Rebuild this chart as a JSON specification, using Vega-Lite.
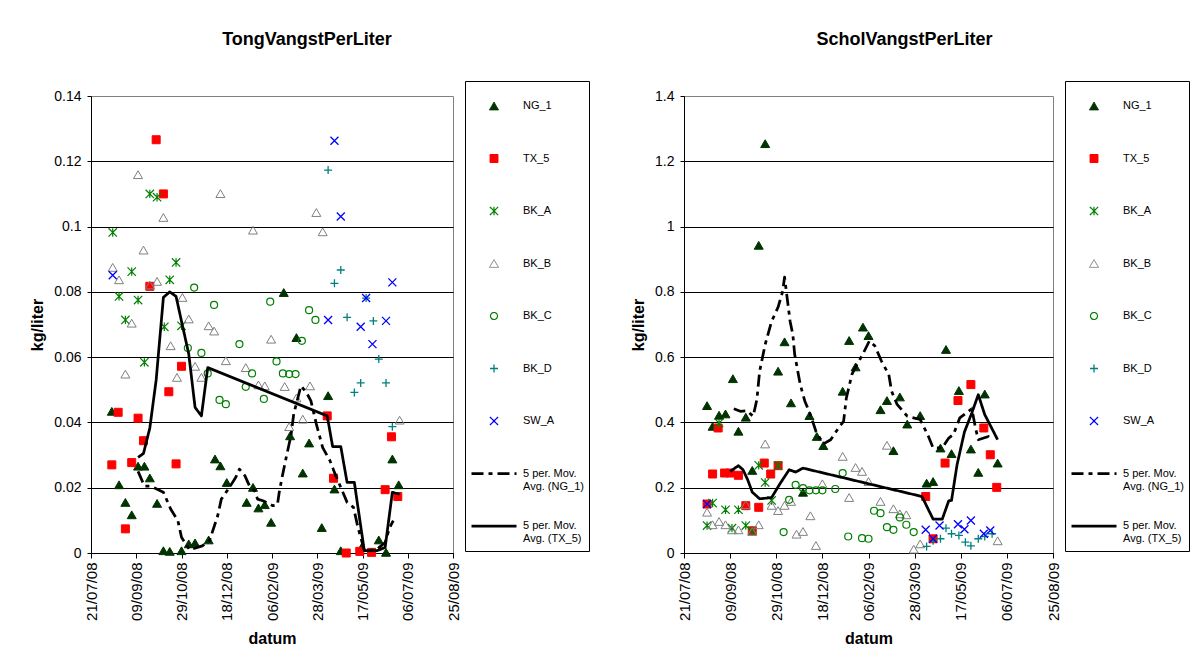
{
"$schema": "https://vega.github.io/schema/vega-lite/v6.json",
"background": "white",
"padding": {"left": 29, "top": 30, "right": 0, "bottom": 0},
"datasets": {
"tong": [
{"s":"NG_1","d":"2008-08-13","v":0.0434},{"s":"NG_1","d":"2008-08-21","v":0.0209},{"s":"NG_1","d":"2008-08-28","v":0.0155},{"s":"NG_1","d":"2008-09-04","v":0.0117},{"s":"NG_1","d":"2008-09-11","v":0.0266},{"s":"NG_1","d":"2008-09-18","v":0.0266},{"s":"NG_1","d":"2008-09-24","v":0.023},{"s":"NG_1","d":"2008-10-02","v":0.0152},{"s":"NG_1","d":"2008-10-09","v":0.0007},{"s":"NG_1","d":"2008-10-16","v":0.0005},{"s":"NG_1","d":"2008-10-29","v":0.0007},{"s":"NG_1","d":"2008-11-06","v":0.0028},{"s":"NG_1","d":"2008-11-13","v":0.0031},{"s":"NG_1","d":"2008-11-28","v":0.004},{"s":"NG_1","d":"2008-12-05","v":0.0288},{"s":"NG_1","d":"2008-12-11","v":0.0267},{"s":"NG_1","d":"2008-12-18","v":0.0216},{"s":"NG_1","d":"2009-01-09","v":0.0155},{"s":"NG_1","d":"2009-01-16","v":0.0201},{"s":"NG_1","d":"2009-01-22","v":0.0138},{"s":"NG_1","d":"2009-01-29","v":0.0148},{"s":"NG_1","d":"2009-02-05","v":0.0094},{"s":"NG_1","d":"2009-02-19","v":0.0798},{"s":"NG_1","d":"2009-02-26","v":0.0359},{"s":"NG_1","d":"2009-03-05","v":0.066},{"s":"NG_1","d":"2009-03-12","v":0.0245},{"s":"NG_1","d":"2009-03-19","v":0.0337},{"s":"NG_1","d":"2009-04-02","v":0.0078},{"s":"NG_1","d":"2009-04-09","v":0.0482},{"s":"NG_1","d":"2009-04-16","v":0.0196},{"s":"NG_1","d":"2009-04-23","v":0.0007},{"s":"NG_1","d":"2009-05-16","v":0.0017},{"s":"NG_1","d":"2009-06-04","v":0.004},{"s":"NG_1","d":"2009-06-12","v":0.0002},{"s":"NG_1","d":"2009-06-19","v":0.0288},{"s":"NG_1","d":"2009-06-26","v":0.0209},
{"s":"TX_5","d":"2008-08-13","v":0.027},{"s":"TX_5","d":"2008-08-20","v":0.0431},{"s":"TX_5","d":"2008-08-28","v":0.0074},{"s":"TX_5","d":"2008-09-04","v":0.0277},{"s":"TX_5","d":"2008-09-11","v":0.0413},{"s":"TX_5","d":"2008-09-17","v":0.0344},{"s":"TX_5","d":"2008-09-24","v":0.0817},{"s":"TX_5","d":"2008-10-01","v":0.1266},{"s":"TX_5","d":"2008-10-09","v":0.110},{"s":"TX_5","d":"2008-10-15","v":0.0494},{"s":"TX_5","d":"2008-10-23","v":0.0273},{"s":"TX_5","d":"2008-10-29","v":0.0572},{"s":"TX_5","d":"2009-04-08","v":0.042},{"s":"TX_5","d":"2009-04-15","v":0.0229},{"s":"TX_5","d":"2009-04-29","v":0.0},{"s":"TX_5","d":"2009-05-14","v":0.0005},{"s":"TX_5","d":"2009-05-27","v":0.0002},{"s":"TX_5","d":"2009-06-11","v":0.0194},{"s":"TX_5","d":"2009-06-18","v":0.0356},{"s":"TX_5","d":"2009-06-25","v":0.0173},
{"s":"BK_A","d":"2008-08-14","v":0.0982},{"s":"BK_A","d":"2008-08-21","v":0.0786},{"s":"BK_A","d":"2008-08-28","v":0.0714},{"s":"BK_A","d":"2008-09-04","v":0.0862},{"s":"BK_A","d":"2008-09-11","v":0.0775},{"s":"BK_A","d":"2008-09-18","v":0.0584},{"s":"BK_A","d":"2008-09-24","v":0.110},{"s":"BK_A","d":"2008-10-02","v":0.109},{"s":"BK_A","d":"2008-10-10","v":0.0693},{"s":"BK_A","d":"2008-10-16","v":0.0837},{"s":"BK_A","d":"2008-10-23","v":0.089},{"s":"BK_A","d":"2008-10-29","v":0.0696},
{"s":"BK_B","d":"2008-08-14","v":0.0875},{"s":"BK_B","d":"2008-08-21","v":0.0837},{"s":"BK_B","d":"2008-08-28","v":0.0548},{"s":"BK_B","d":"2008-09-04","v":0.0704},{"s":"BK_B","d":"2008-09-11","v":0.1159},{"s":"BK_B","d":"2008-09-17","v":0.0928},{"s":"BK_B","d":"2008-09-24","v":0.0821},{"s":"BK_B","d":"2008-10-02","v":0.0832},{"s":"BK_B","d":"2008-10-09","v":0.1028},{"s":"BK_B","d":"2008-10-17","v":0.0635},{"s":"BK_B","d":"2008-10-24","v":0.0538},{"s":"BK_B","d":"2008-10-30","v":0.0783},{"s":"BK_B","d":"2008-11-06","v":0.0717},{"s":"BK_B","d":"2008-11-13","v":0.0572},{"s":"BK_B","d":"2008-11-20","v":0.0538},{"s":"BK_B","d":"2008-11-28","v":0.0696},{"s":"BK_B","d":"2008-12-04","v":0.068},{"s":"BK_B","d":"2008-12-11","v":0.1101},{"s":"BK_B","d":"2008-12-17","v":0.0589},{"s":"BK_B","d":"2009-01-08","v":0.0568},{"s":"BK_B","d":"2009-01-16","v":0.0989},{"s":"BK_B","d":"2009-01-22","v":0.0515},{"s":"BK_B","d":"2009-01-29","v":0.0512},{"s":"BK_B","d":"2009-02-05","v":0.0655},{"s":"BK_B","d":"2009-02-20","v":0.051},{"s":"BK_B","d":"2009-02-25","v":0.0387},{"s":"BK_B","d":"2009-03-05","v":0.0475},{"s":"BK_B","d":"2009-03-12","v":0.041},{"s":"BK_B","d":"2009-03-20","v":0.0512},{"s":"BK_B","d":"2009-03-27","v":0.1043},{"s":"BK_B","d":"2009-04-03","v":0.0984},{"s":"BK_B","d":"2009-06-27","v":0.0407},
{"s":"BK_C","d":"2008-11-05","v":0.0628},{"s":"BK_C","d":"2008-11-12","v":0.0813},{"s":"BK_C","d":"2008-11-20","v":0.0613},{"s":"BK_C","d":"2008-11-27","v":0.055},{"s":"BK_C","d":"2008-12-04","v":0.076},{"s":"BK_C","d":"2008-12-10","v":0.0469},{"s":"BK_C","d":"2008-12-17","v":0.0456},{"s":"BK_C","d":"2009-01-01","v":0.064},{"s":"BK_C","d":"2009-01-08","v":0.0509},{"s":"BK_C","d":"2009-01-15","v":0.055},{"s":"BK_C","d":"2009-01-28","v":0.0472},{"s":"BK_C","d":"2009-02-04","v":0.077},{"s":"BK_C","d":"2009-02-11","v":0.0587},{"s":"BK_C","d":"2009-02-18","v":0.055},{"s":"BK_C","d":"2009-02-25","v":0.0548},{"s":"BK_C","d":"2009-03-04","v":0.0548},{"s":"BK_C","d":"2009-03-11","v":0.065},{"s":"BK_C","d":"2009-03-19","v":0.0744},{"s":"BK_C","d":"2009-03-26","v":0.0714},
{"s":"BK_D","d":"2009-04-09","v":0.1173},{"s":"BK_D","d":"2009-04-16","v":0.0826},{"s":"BK_D","d":"2009-04-23","v":0.0867},{"s":"BK_D","d":"2009-04-30","v":0.0722},{"s":"BK_D","d":"2009-05-08","v":0.0492},{"s":"BK_D","d":"2009-05-15","v":0.0521},{"s":"BK_D","d":"2009-05-21","v":0.0781},{"s":"BK_D","d":"2009-05-29","v":0.0711},{"s":"BK_D","d":"2009-06-04","v":0.0594},{"s":"BK_D","d":"2009-06-12","v":0.0521},{"s":"BK_D","d":"2009-06-19","v":0.0387},
{"s":"SW_A","d":"2008-08-14","v":0.0851},{"s":"SW_A","d":"2009-04-09","v":0.0714},{"s":"SW_A","d":"2009-04-16","v":0.1263},{"s":"SW_A","d":"2009-04-23","v":0.1031},{"s":"SW_A","d":"2009-05-15","v":0.0693},{"s":"SW_A","d":"2009-05-21","v":0.0781},{"s":"SW_A","d":"2009-05-28","v":0.064},{"s":"SW_A","d":"2009-06-12","v":0.0711},{"s":"SW_A","d":"2009-06-19","v":0.0829}
],
"tongma": [
{"s":"5 per. Mov. Avg. (TX_5)","d":"2008-09-11","v":0.0293},{"s":"5 per. Mov. Avg. (TX_5)","d":"2008-09-17","v":0.0305},{"s":"5 per. Mov. Avg. (TX_5)","d":"2008-09-24","v":0.0383},{"s":"5 per. Mov. Avg. (TX_5)","d":"2008-10-01","v":0.053},{"s":"5 per. Mov. Avg. (TX_5)","d":"2008-10-09","v":0.0783},{"s":"5 per. Mov. Avg. (TX_5)","d":"2008-10-16","v":0.080},{"s":"5 per. Mov. Avg. (TX_5)","d":"2008-10-23","v":0.0786},{"s":"5 per. Mov. Avg. (TX_5)","d":"2008-10-29","v":0.071},{"s":"5 per. Mov. Avg. (TX_5)","d":"2008-11-06","v":0.061},{"s":"5 per. Mov. Avg. (TX_5)","d":"2008-11-13","v":0.0446},{"s":"5 per. Mov. Avg. (TX_5)","d":"2008-11-20","v":0.042},{"s":"5 per. Mov. Avg. (TX_5)","d":"2008-11-27","v":0.0568},{"s":"5 per. Mov. Avg. (TX_5)","d":"2009-04-08","v":0.042},{"s":"5 per. Mov. Avg. (TX_5)","d":"2009-04-14","v":0.0326},{"s":"5 per. Mov. Avg. (TX_5)","d":"2009-04-23","v":0.0326},{"s":"5 per. Mov. Avg. (TX_5)","d":"2009-04-30","v":0.0216},{"s":"5 per. Mov. Avg. (TX_5)","d":"2009-05-08","v":0.0216},{"s":"5 per. Mov. Avg. (TX_5)","d":"2009-05-19","v":0.0007},{"s":"5 per. Mov. Avg. (TX_5)","d":"2009-06-02","v":0.0007},{"s":"5 per. Mov. Avg. (TX_5)","d":"2009-06-11","v":0.0017},{"s":"5 per. Mov. Avg. (TX_5)","d":"2009-06-19","v":0.0186},{"s":"5 per. Mov. Avg. (TX_5)","d":"2009-06-27","v":0.018},
{"s":"5 per. Mov. Avg. (NG_1)","d":"2008-09-11","v":0.025},{"s":"5 per. Mov. Avg. (NG_1)","d":"2008-09-18","v":0.0205},{"s":"5 per. Mov. Avg. (NG_1)","d":"2008-09-25","v":0.0205},{"s":"5 per. Mov. Avg. (NG_1)","d":"2008-10-09","v":0.0186},{"s":"5 per. Mov. Avg. (NG_1)","d":"2008-10-17","v":0.0135},{"s":"5 per. Mov. Avg. (NG_1)","d":"2008-10-25","v":0.0099},{"s":"5 per. Mov. Avg. (NG_1)","d":"2008-10-29","v":0.0048},{"s":"5 per. Mov. Avg. (NG_1)","d":"2008-11-07","v":0.001},{"s":"5 per. Mov. Avg. (NG_1)","d":"2008-11-21","v":0.0022},{"s":"5 per. Mov. Avg. (NG_1)","d":"2008-11-29","v":0.0038},{"s":"5 per. Mov. Avg. (NG_1)","d":"2008-12-08","v":0.0114},{"s":"5 per. Mov. Avg. (NG_1)","d":"2008-12-12","v":0.0165},{"s":"5 per. Mov. Avg. (NG_1)","d":"2008-12-21","v":0.0201},{"s":"5 per. Mov. Avg. (NG_1)","d":"2008-12-28","v":0.0232},{"s":"5 per. Mov. Avg. (NG_1)","d":"2009-01-01","v":0.0257},{"s":"5 per. Mov. Avg. (NG_1)","d":"2009-01-07","v":0.0237},{"s":"5 per. Mov. Avg. (NG_1)","d":"2009-01-12","v":0.0206},{"s":"5 per. Mov. Avg. (NG_1)","d":"2009-01-18","v":0.019},{"s":"5 per. Mov. Avg. (NG_1)","d":"2009-01-21","v":0.0165},{"s":"5 per. Mov. Avg. (NG_1)","d":"2009-01-27","v":0.016},{"s":"5 per. Mov. Avg. (NG_1)","d":"2009-02-07","v":0.0145},{"s":"5 per. Mov. Avg. (NG_1)","d":"2009-02-12","v":0.0148},{"s":"5 per. Mov. Avg. (NG_1)","d":"2009-02-14","v":0.0186},{"s":"5 per. Mov. Avg. (NG_1)","d":"2009-02-17","v":0.023},{"s":"5 per. Mov. Avg. (NG_1)","d":"2009-02-22","v":0.0297},{"s":"5 per. Mov. Avg. (NG_1)","d":"2009-02-27","v":0.036},{"s":"5 per. Mov. Avg. (NG_1)","d":"2009-03-02","v":0.0426},{"s":"5 per. Mov. Avg. (NG_1)","d":"2009-03-10","v":0.0512},{"s":"5 per. Mov. Avg. (NG_1)","d":"2009-03-16","v":0.0492},{"s":"5 per. Mov. Avg. (NG_1)","d":"2009-03-21","v":0.0466},{"s":"5 per. Mov. Avg. (NG_1)","d":"2009-03-27","v":0.0395},{"s":"5 per. Mov. Avg. (NG_1)","d":"2009-04-03","v":0.0323},{"s":"5 per. Mov. Avg. (NG_1)","d":"2009-04-11","v":0.0283},{"s":"5 per. Mov. Avg. (NG_1)","d":"2009-04-16","v":0.0247},{"s":"5 per. Mov. Avg. (NG_1)","d":"2009-04-30","v":0.0155},{"s":"5 per. Mov. Avg. (NG_1)","d":"2009-05-07","v":0.014},{"s":"5 per. Mov. Avg. (NG_1)","d":"2009-05-12","v":0.0078},{"s":"5 per. Mov. Avg. (NG_1)","d":"2009-05-19","v":0.0009},{"s":"5 per. Mov. Avg. (NG_1)","d":"2009-06-01","v":0.0009},{"s":"5 per. Mov. Avg. (NG_1)","d":"2009-06-11","v":0.0032},{"s":"5 per. Mov. Avg. (NG_1)","d":"2009-06-16","v":0.0078},{"s":"5 per. Mov. Avg. (NG_1)","d":"2009-06-20","v":0.0099}
],
"schol": [
{"s":"NG_1","d":"2008-08-15","v":0.4515},{"s":"NG_1","d":"2008-08-21","v":0.388},{"s":"NG_1","d":"2008-08-28","v":0.422},{"s":"NG_1","d":"2008-09-04","v":0.426},{"s":"NG_1","d":"2008-09-12","v":0.534},{"s":"NG_1","d":"2008-09-18","v":0.373},{"s":"NG_1","d":"2008-09-26","v":0.416},{"s":"NG_1","d":"2008-10-03","v":0.253},{"s":"NG_1","d":"2008-10-10","v":0.9426},{"s":"NG_1","d":"2008-10-17","v":1.254},{"s":"NG_1","d":"2008-10-31","v":0.557},{"s":"NG_1","d":"2008-11-07","v":0.647},{"s":"NG_1","d":"2008-11-14","v":0.46},{"s":"NG_1","d":"2008-11-27","v":0.186},{"s":"NG_1","d":"2008-12-04","v":0.421},{"s":"NG_1","d":"2008-12-12","v":0.357},{"s":"NG_1","d":"2008-12-19","v":0.329},{"s":"NG_1","d":"2009-01-09","v":0.4955},{"s":"NG_1","d":"2009-01-16","v":0.651},{"s":"NG_1","d":"2009-01-23","v":0.570},{"s":"NG_1","d":"2009-01-31","v":0.692},{"s":"NG_1","d":"2009-02-06","v":0.666},{"s":"NG_1","d":"2009-02-19","v":0.439},{"s":"NG_1","d":"2009-02-26","v":0.467},{"s":"NG_1","d":"2009-03-05","v":0.3135},{"s":"NG_1","d":"2009-03-12","v":0.478},{"s":"NG_1","d":"2009-03-20","v":0.395},{"s":"NG_1","d":"2009-04-03","v":0.421},{"s":"NG_1","d":"2009-04-10","v":0.214},{"s":"NG_1","d":"2009-04-17","v":0.219},{"s":"NG_1","d":"2009-04-25","v":0.3216},{"s":"NG_1","d":"2009-05-01","v":0.6235},{"s":"NG_1","d":"2009-05-07","v":0.3044},{"s":"NG_1","d":"2009-05-15","v":0.4977},{"s":"NG_1","d":"2009-05-28","v":0.3185},{"s":"NG_1","d":"2009-06-05","v":0.247},{"s":"NG_1","d":"2009-06-12","v":0.487},{"s":"NG_1","d":"2009-06-26","v":0.2755},
{"s":"TX_5","d":"2008-08-15","v":0.15},{"s":"TX_5","d":"2008-08-21","v":0.242},{"s":"TX_5","d":"2008-08-27","v":0.383},{"s":"TX_5","d":"2008-09-03","v":0.245},{"s":"TX_5","d":"2008-09-09","v":0.245},{"s":"TX_5","d":"2008-09-18","v":0.238},{"s":"TX_5","d":"2008-09-26","v":0.145},{"s":"TX_5","d":"2008-10-03","v":0.068},{"s":"TX_5","d":"2008-10-10","v":0.14},{"s":"TX_5","d":"2008-10-16","v":0.2755},{"s":"TX_5","d":"2008-10-23","v":0.242},{"s":"TX_5","d":"2008-10-31","v":0.2675},{"s":"TX_5","d":"2009-04-09","v":0.173},{"s":"TX_5","d":"2009-04-17","v":0.0435},{"s":"TX_5","d":"2009-04-30","v":0.2755},{"s":"TX_5","d":"2009-05-14","v":0.467},{"s":"TX_5","d":"2009-05-28","v":0.516},{"s":"TX_5","d":"2009-06-11","v":0.383},{"s":"TX_5","d":"2009-06-18","v":0.301},{"s":"TX_5","d":"2009-06-25","v":0.201},
{"s":"BK_A","d":"2008-08-15","v":0.084},{"s":"BK_A","d":"2008-08-21","v":0.153},{"s":"BK_A","d":"2008-08-28","v":0.398},{"s":"BK_A","d":"2008-09-04","v":0.1325},{"s":"BK_A","d":"2008-09-11","v":0.076},{"s":"BK_A","d":"2008-09-18","v":0.1325},{"s":"BK_A","d":"2008-09-26","v":0.084},{"s":"BK_A","d":"2008-10-03","v":0.068},{"s":"BK_A","d":"2008-10-10","v":0.2685},{"s":"BK_A","d":"2008-10-17","v":0.216},{"s":"BK_A","d":"2008-10-24","v":0.161},{"s":"BK_A","d":"2008-10-31","v":0.2675},
{"s":"BK_B","d":"2008-08-15","v":0.125},{"s":"BK_B","d":"2008-08-21","v":0.0865},{"s":"BK_B","d":"2008-08-28","v":0.0966},{"s":"BK_B","d":"2008-09-04","v":0.0865},{"s":"BK_B","d":"2008-09-11","v":0.071},{"s":"BK_B","d":"2008-09-18","v":0.071},{"s":"BK_B","d":"2008-09-26","v":0.148},{"s":"BK_B","d":"2008-10-03","v":0.066},{"s":"BK_B","d":"2008-10-10","v":0.0865},{"s":"BK_B","d":"2008-10-17","v":0.334},{"s":"BK_B","d":"2008-10-24","v":0.146},{"s":"BK_B","d":"2008-10-31","v":0.130},{"s":"BK_B","d":"2008-11-07","v":0.146},{"s":"BK_B","d":"2008-11-14","v":0.158},{"s":"BK_B","d":"2008-11-20","v":0.0577},{"s":"BK_B","d":"2008-11-27","v":0.066},{"s":"BK_B","d":"2008-12-05","v":0.114},{"s":"BK_B","d":"2008-12-11","v":0.023},{"s":"BK_B","d":"2008-12-18","v":0.212},{"s":"BK_B","d":"2009-01-09","v":0.296},{"s":"BK_B","d":"2009-01-16","v":0.170},{"s":"BK_B","d":"2009-01-23","v":0.262},{"s":"BK_B","d":"2009-01-30","v":0.250},{"s":"BK_B","d":"2009-02-06","v":0.219},{"s":"BK_B","d":"2009-02-19","v":0.158},{"s":"BK_B","d":"2009-02-26","v":0.33},{"s":"BK_B","d":"2009-03-05","v":0.1356},{"s":"BK_B","d":"2009-03-12","v":0.120},{"s":"BK_B","d":"2009-03-19","v":0.117},{"s":"BK_B","d":"2009-03-27","v":0.0117},{"s":"BK_B","d":"2009-04-03","v":0.028},{"s":"BK_B","d":"2009-06-26","v":0.0374},
{"s":"BK_C","d":"2008-11-06","v":0.064},{"s":"BK_C","d":"2008-11-12","v":0.163},{"s":"BK_C","d":"2008-11-19","v":0.209},{"s":"BK_C","d":"2008-11-27","v":0.199},{"s":"BK_C","d":"2008-12-04","v":0.192},{"s":"BK_C","d":"2008-12-11","v":0.192},{"s":"BK_C","d":"2008-12-18","v":0.192},{"s":"BK_C","d":"2009-01-01","v":0.196},{"s":"BK_C","d":"2009-01-09","v":0.245},{"s":"BK_C","d":"2009-01-15","v":0.0506},{"s":"BK_C","d":"2009-01-30","v":0.0454},{"s":"BK_C","d":"2009-02-06","v":0.0436},{"s":"BK_C","d":"2009-02-12","v":0.1295},{"s":"BK_C","d":"2009-02-19","v":0.122},{"s":"BK_C","d":"2009-02-26","v":0.079},{"s":"BK_C","d":"2009-03-05","v":0.071},{"s":"BK_C","d":"2009-03-12","v":0.109},{"s":"BK_C","d":"2009-03-19","v":0.0865},{"s":"BK_C","d":"2009-03-27","v":0.064},
{"s":"BK_D","d":"2009-04-10","v":0.02},{"s":"BK_D","d":"2009-04-17","v":0.0374},{"s":"BK_D","d":"2009-04-25","v":0.0436},{"s":"BK_D","d":"2009-05-01","v":0.076},{"s":"BK_D","d":"2009-05-07","v":0.059},{"s":"BK_D","d":"2009-05-15","v":0.0537},{"s":"BK_D","d":"2009-05-22","v":0.0331},{"s":"BK_D","d":"2009-05-28","v":0.022},{"s":"BK_D","d":"2009-06-05","v":0.0436},{"s":"BK_D","d":"2009-06-12","v":0.0506},{"s":"BK_D","d":"2009-06-20","v":0.059},
{"s":"SW_A","d":"2008-08-15","v":0.15},{"s":"SW_A","d":"2009-04-09","v":0.071},{"s":"SW_A","d":"2009-04-17","v":0.0435},{"s":"SW_A","d":"2009-04-24","v":0.084},{"s":"SW_A","d":"2009-05-14","v":0.088},{"s":"SW_A","d":"2009-05-21","v":0.073},{"s":"SW_A","d":"2009-05-28","v":0.0997},{"s":"SW_A","d":"2009-06-11","v":0.059},{"s":"SW_A","d":"2009-06-18","v":0.069}
],
"scholma": [
{"s":"5 per. Mov. Avg. (TX_5)","d":"2008-09-09","v":0.25},{"s":"5 per. Mov. Avg. (TX_5)","d":"2008-09-18","v":0.2675},{"s":"5 per. Mov. Avg. (TX_5)","d":"2008-09-23","v":0.255},{"s":"5 per. Mov. Avg. (TX_5)","d":"2008-09-28","v":0.2245},{"s":"5 per. Mov. Avg. (TX_5)","d":"2008-10-03","v":0.1865},{"s":"5 per. Mov. Avg. (TX_5)","d":"2008-10-11","v":0.166},{"s":"5 per. Mov. Avg. (TX_5)","d":"2008-10-18","v":0.168},{"s":"5 per. Mov. Avg. (TX_5)","d":"2008-10-24","v":0.170},{"s":"5 per. Mov. Avg. (TX_5)","d":"2008-11-02","v":0.212},{"s":"5 per. Mov. Avg. (TX_5)","d":"2008-11-12","v":0.255},{"s":"5 per. Mov. Avg. (TX_5)","d":"2008-11-19","v":0.248},{"s":"5 per. Mov. Avg. (TX_5)","d":"2008-11-27","v":0.260},{"s":"5 per. Mov. Avg. (TX_5)","d":"2009-04-05","v":0.173},{"s":"5 per. Mov. Avg. (TX_5)","d":"2009-04-12","v":0.1325},{"s":"5 per. Mov. Avg. (TX_5)","d":"2009-04-17","v":0.104},{"s":"5 per. Mov. Avg. (TX_5)","d":"2009-04-27","v":0.104},{"s":"5 per. Mov. Avg. (TX_5)","d":"2009-05-04","v":0.160},{"s":"5 per. Mov. Avg. (TX_5)","d":"2009-05-07","v":0.161},{"s":"5 per. Mov. Avg. (TX_5)","d":"2009-05-13","v":0.2706},{"s":"5 per. Mov. Avg. (TX_5)","d":"2009-05-21","v":0.3707},{"s":"5 per. Mov. Avg. (TX_5)","d":"2009-05-29","v":0.429},{"s":"5 per. Mov. Avg. (TX_5)","d":"2009-06-05","v":0.485},{"s":"5 per. Mov. Avg. (TX_5)","d":"2009-06-12","v":0.424},{"s":"5 per. Mov. Avg. (TX_5)","d":"2009-06-26","v":0.347},
{"s":"5 per. Mov. Avg. (NG_1)","d":"2008-09-13","v":0.442},{"s":"5 per. Mov. Avg. (NG_1)","d":"2008-09-20","v":0.434},{"s":"5 per. Mov. Avg. (NG_1)","d":"2008-09-27","v":0.436},{"s":"5 per. Mov. Avg. (NG_1)","d":"2008-10-04","v":0.419},{"s":"5 per. Mov. Avg. (NG_1)","d":"2008-10-08","v":0.47},{"s":"5 per. Mov. Avg. (NG_1)","d":"2008-10-11","v":0.557},{"s":"5 per. Mov. Avg. (NG_1)","d":"2008-10-17","v":0.639},{"s":"5 per. Mov. Avg. (NG_1)","d":"2008-10-24","v":0.71},{"s":"5 per. Mov. Avg. (NG_1)","d":"2008-10-31","v":0.753},{"s":"5 per. Mov. Avg. (NG_1)","d":"2008-11-05","v":0.802},{"s":"5 per. Mov. Avg. (NG_1)","d":"2008-11-07","v":0.845},{"s":"5 per. Mov. Avg. (NG_1)","d":"2008-11-09","v":0.80},{"s":"5 per. Mov. Avg. (NG_1)","d":"2008-11-13","v":0.71},{"s":"5 per. Mov. Avg. (NG_1)","d":"2008-11-16","v":0.669},{"s":"5 per. Mov. Avg. (NG_1)","d":"2008-11-18","v":0.608},{"s":"5 per. Mov. Avg. (NG_1)","d":"2008-11-24","v":0.516},{"s":"5 per. Mov. Avg. (NG_1)","d":"2008-11-29","v":0.465},{"s":"5 per. Mov. Avg. (NG_1)","d":"2008-12-05","v":0.424},{"s":"5 per. Mov. Avg. (NG_1)","d":"2008-12-11","v":0.373},{"s":"5 per. Mov. Avg. (NG_1)","d":"2008-12-19","v":0.334},{"s":"5 per. Mov. Avg. (NG_1)","d":"2008-12-27","v":0.347},{"s":"5 per. Mov. Avg. (NG_1)","d":"2009-01-05","v":0.385},{"s":"5 per. Mov. Avg. (NG_1)","d":"2009-01-10","v":0.403},{"s":"5 per. Mov. Avg. (NG_1)","d":"2009-01-13","v":0.475},{"s":"5 per. Mov. Avg. (NG_1)","d":"2009-01-19","v":0.547},{"s":"5 per. Mov. Avg. (NG_1)","d":"2009-01-24","v":0.575},{"s":"5 per. Mov. Avg. (NG_1)","d":"2009-01-31","v":0.61},{"s":"5 per. Mov. Avg. (NG_1)","d":"2009-02-07","v":0.65},{"s":"5 per. Mov. Avg. (NG_1)","d":"2009-02-13","v":0.634},{"s":"5 per. Mov. Avg. (NG_1)","d":"2009-02-20","v":0.588},{"s":"5 per. Mov. Avg. (NG_1)","d":"2009-02-28","v":0.547},{"s":"5 per. Mov. Avg. (NG_1)","d":"2009-03-03","v":0.496},{"s":"5 per. Mov. Avg. (NG_1)","d":"2009-03-09","v":0.455},{"s":"5 per. Mov. Avg. (NG_1)","d":"2009-03-20","v":0.419},{"s":"5 per. Mov. Avg. (NG_1)","d":"2009-04-03","v":0.409},{"s":"5 per. Mov. Avg. (NG_1)","d":"2009-04-12","v":0.357},{"s":"5 per. Mov. Avg. (NG_1)","d":"2009-04-17","v":0.322},{"s":"5 per. Mov. Avg. (NG_1)","d":"2009-04-27","v":0.322},{"s":"5 per. Mov. Avg. (NG_1)","d":"2009-05-04","v":0.352},{"s":"5 per. Mov. Avg. (NG_1)","d":"2009-05-09","v":0.363},{"s":"5 per. Mov. Avg. (NG_1)","d":"2009-05-16","v":0.414},{"s":"5 per. Mov. Avg. (NG_1)","d":"2009-05-29","v":0.442},{"s":"5 per. Mov. Avg. (NG_1)","d":"2009-06-02","v":0.383},{"s":"5 per. Mov. Avg. (NG_1)","d":"2009-06-05","v":0.347},{"s":"5 per. Mov. Avg. (NG_1)","d":"2009-06-16","v":0.357},{"s":"5 per. Mov. Avg. (NG_1)","d":"2009-06-20","v":0.347}
]
},
"spacing": 40,
"hconcat": [
{
"title": {"text": "TongVangstPerLiter", "frame": "group", "dx": 35},
"width": 362, "height": 457,
"layer": [
{
"data": {"name": "tong"},
"mark": {"type": "point", "opacity": 1},
"encoding": {
"x": {"field": "d", "type": "temporal", "scale": {"type": "utc", "domain": [{"year":2008,"month":7,"date":21,"utc":true},{"year":2009,"month":8,"date":25,"utc":true}], "nice": false},
 "axis": {"title": "datum", "format": "%d/%m/%y", "values": [{"year":2008,"month":7,"date":21,"utc":true},{"year":2008,"month":9,"date":9,"utc":true},{"year":2008,"month":10,"date":29,"utc":true},{"year":2008,"month":12,"date":18,"utc":true},{"year":2009,"month":2,"date":6,"utc":true},{"year":2009,"month":3,"date":28,"utc":true},{"year":2009,"month":5,"date":17,"utc":true},{"year":2009,"month":7,"date":6,"utc":true},{"year":2009,"month":8,"date":25,"utc":true}], "labelAngle": 270, "labelFontSize": 15, "labelPadding": 4, "tickSize": 5, "titlePadding": 10, "grid": false, "labelOverlap": false, "labelFlush": false}},
"y": {"field": "v", "type": "quantitative", "scale": {"domain": [0, 0.14], "nice": false, "zero": true},
 "axis": {"title": "kg/liter", "values": [0,0.02,0.04,0.06,0.08,0.1,0.12,0.14], "format": ".2~f", "grid": true, "gridColor": {"condition": {"test": "datum.value >= 0.139", "value": "transparent"}, "value": "black"}, "titlePadding": 8, "labelPadding": 6, "tickSize": 4, "labelFlush": false, "labelOverlap": false}},
"shape": {"field": "s", "type": "nominal", "scale": {"domain": ["NG_1","TX_5","BK_A","BK_B","BK_C","BK_D","SW_A","5 per. Mov. Avg. (NG_1)","5 per. Mov. Avg. (TX_5)"], "range": ["triangle-up","square","M-1,-1L1,1M-1,1L1,-1M0,-1L0,1","triangle-up","circle","M-1,0L1,0M0,-1L0,1","M-1,-1L1,1M-1,1L1,-1","stroke","stroke"]},
 "legend": {"title": null, "orient": "none", "legendX": 374, "legendY": -15, "labelExpr": "indexof(datum.label, 'Avg') > 0 ? ['5 per. Mov.', slice(datum.label, 12)] : datum.label"}},
"fill": {"field": "s", "type": "nominal", "scale": {"domain": ["NG_1","TX_5","BK_A","BK_B","BK_C","BK_D","SW_A","5 per. Mov. Avg. (NG_1)","5 per. Mov. Avg. (TX_5)"], "range": ["#003300","#FF0000","transparent","transparent","transparent","transparent","transparent","transparent","transparent"]},
 "legend": {"title": null, "orient": "none", "legendX": 374, "legendY": -15, "labelExpr": "indexof(datum.label, 'Avg') > 0 ? ['5 per. Mov.', slice(datum.label, 12)] : datum.label"}},
"stroke": {"field": "s", "type": "nominal", "scale": {"domain": ["NG_1","TX_5","BK_A","BK_B","BK_C","BK_D","SW_A","5 per. Mov. Avg. (NG_1)","5 per. Mov. Avg. (TX_5)"], "range": ["#003300","#FF0000","#008000","#808080","#008000","#008080","#0000FF","#000000","#000000"]},
 "legend": {"title": null, "orient": "none", "legendX": 374, "legendY": -15, "labelExpr": "indexof(datum.label, 'Avg') > 0 ? ['5 per. Mov.', slice(datum.label, 12)] : datum.label"}},
"size": {"field": "s", "type": "nominal", "scale": {"type": "ordinal", "domain": ["NG_1","TX_5","BK_A","BK_B","BK_C","BK_D","SW_A","5 per. Mov. Avg. (NG_1)","5 per. Mov. Avg. (TX_5)"], "range": [81,64,70,81,49,64,64,2025,2025]},
 "legend": {"title": null, "orient": "none", "legendX": 374, "legendY": -15, "labelExpr": "indexof(datum.label, 'Avg') > 0 ? ['5 per. Mov.', slice(datum.label, 12)] : datum.label"}},
"strokeWidth": {"field": "s", "type": "nominal", "scale": {"type": "ordinal", "domain": ["NG_1","TX_5","BK_A","BK_B","BK_C","BK_D","SW_A","5 per. Mov. Avg. (NG_1)","5 per. Mov. Avg. (TX_5)"], "range": [1,1,1.2,1,1.2,1.3,1.3,2.75,2.75]},
 "legend": {"title": null, "orient": "none", "legendX": 374, "legendY": -15, "labelExpr": "indexof(datum.label, 'Avg') > 0 ? ['5 per. Mov.', slice(datum.label, 12)] : datum.label"}}
}
},
{
"data": {"name": "tongma"},
"mark": {"type": "line", "strokeCap": "butt", "strokeJoin": "round"},
"encoding": {
"x": {"field": "d", "type": "temporal"},
"y": {"field": "v", "type": "quantitative"},
"stroke": {"field": "s", "type": "nominal", "scale": {"domain": ["NG_1","TX_5","BK_A","BK_B","BK_C","BK_D","SW_A","5 per. Mov. Avg. (NG_1)","5 per. Mov. Avg. (TX_5)"], "range": ["#003300","#FF0000","#008000","#808080","#008000","#008080","#0000FF","#000000","#000000"]},
 "legend": {"title": null, "orient": "none", "legendX": 374, "legendY": -15, "labelExpr": "indexof(datum.label, 'Avg') > 0 ? ['5 per. Mov.', slice(datum.label, 12)] : datum.label"}},
"strokeWidth": {"field": "s", "type": "nominal", "scale": {"type": "ordinal", "domain": ["NG_1","TX_5","BK_A","BK_B","BK_C","BK_D","SW_A","5 per. Mov. Avg. (NG_1)","5 per. Mov. Avg. (TX_5)"], "range": [1,1,1.2,1,1.2,1.3,1.3,2.75,2.75]},
 "legend": {"title": null, "orient": "none", "legendX": 374, "legendY": -15, "labelExpr": "indexof(datum.label, 'Avg') > 0 ? ['5 per. Mov.', slice(datum.label, 12)] : datum.label"}},
"strokeDash": {"field": "s", "type": "nominal", "scale": {"domain": ["NG_1","TX_5","BK_A","BK_B","BK_C","BK_D","SW_A","5 per. Mov. Avg. (NG_1)","5 per. Mov. Avg. (TX_5)"], "range": [[1,0],[1,0],[1,0],[1,0],[1,0],[1,0],[1,0],[12,5,4,5],[1,0]]},
 "legend": {"title": null, "orient": "none", "legendX": 374, "legendY": -15, "labelExpr": "indexof(datum.label, 'Avg') > 0 ? ['5 per. Mov.', slice(datum.label, 12)] : datum.label"}}
}
}
]
},
{
"title": {"text": "ScholVangstPerLiter", "frame": "group", "dx": 36},
"width": 369, "height": 457,
"layer": [
{
"data": {"name": "schol"},
"mark": {"type": "point", "opacity": 1},
"encoding": {
"x": {"field": "d", "type": "temporal", "scale": {"type": "utc", "domain": [{"year":2008,"month":7,"date":21,"utc":true},{"year":2009,"month":8,"date":25,"utc":true}], "nice": false},
 "axis": {"title": "datum", "format": "%d/%m/%y", "values": [{"year":2008,"month":7,"date":21,"utc":true},{"year":2008,"month":9,"date":9,"utc":true},{"year":2008,"month":10,"date":29,"utc":true},{"year":2008,"month":12,"date":18,"utc":true},{"year":2009,"month":2,"date":6,"utc":true},{"year":2009,"month":3,"date":28,"utc":true},{"year":2009,"month":5,"date":17,"utc":true},{"year":2009,"month":7,"date":6,"utc":true},{"year":2009,"month":8,"date":25,"utc":true}], "labelAngle": 270, "labelFontSize": 15, "labelPadding": 4, "tickSize": 5, "titlePadding": 10, "grid": false, "labelOverlap": false, "labelFlush": false}},
"y": {"field": "v", "type": "quantitative", "scale": {"domain": [0, 1.4], "nice": false, "zero": true},
 "axis": {"title": "kg/liter", "values": [0,0.2,0.4,0.6,0.8,1,1.2,1.4], "format": ".1~f", "grid": true, "gridColor": {"condition": {"test": "datum.value >= 1.39", "value": "transparent"}, "value": "black"}, "titlePadding": 8, "labelPadding": 6, "tickSize": 4, "labelFlush": false, "labelOverlap": false}},
"shape": {"field": "s", "type": "nominal", "scale": {"domain": ["NG_1","TX_5","BK_A","BK_B","BK_C","BK_D","SW_A","5 per. Mov. Avg. (NG_1)","5 per. Mov. Avg. (TX_5)"], "range": ["triangle-up","square","M-1,-1L1,1M-1,1L1,-1M0,-1L0,1","triangle-up","circle","M-1,0L1,0M0,-1L0,1","M-1,-1L1,1M-1,1L1,-1","stroke","stroke"]},
 "legend": {"title": null, "orient": "none", "legendX": 381, "legendY": -15, "labelExpr": "indexof(datum.label, 'Avg') > 0 ? ['5 per. Mov.', slice(datum.label, 12)] : datum.label"}},
"fill": {"field": "s", "type": "nominal", "scale": {"domain": ["NG_1","TX_5","BK_A","BK_B","BK_C","BK_D","SW_A","5 per. Mov. Avg. (NG_1)","5 per. Mov. Avg. (TX_5)"], "range": ["#003300","#FF0000","transparent","transparent","transparent","transparent","transparent","transparent","transparent"]},
 "legend": {"title": null, "orient": "none", "legendX": 381, "legendY": -15, "labelExpr": "indexof(datum.label, 'Avg') > 0 ? ['5 per. Mov.', slice(datum.label, 12)] : datum.label"}},
"stroke": {"field": "s", "type": "nominal", "scale": {"domain": ["NG_1","TX_5","BK_A","BK_B","BK_C","BK_D","SW_A","5 per. Mov. Avg. (NG_1)","5 per. Mov. Avg. (TX_5)"], "range": ["#003300","#FF0000","#008000","#808080","#008000","#008080","#0000FF","#000000","#000000"]},
 "legend": {"title": null, "orient": "none", "legendX": 381, "legendY": -15, "labelExpr": "indexof(datum.label, 'Avg') > 0 ? ['5 per. Mov.', slice(datum.label, 12)] : datum.label"}},
"size": {"field": "s", "type": "nominal", "scale": {"type": "ordinal", "domain": ["NG_1","TX_5","BK_A","BK_B","BK_C","BK_D","SW_A","5 per. Mov. Avg. (NG_1)","5 per. Mov. Avg. (TX_5)"], "range": [81,64,70,81,49,64,64,2025,2025]},
 "legend": {"title": null, "orient": "none", "legendX": 381, "legendY": -15, "labelExpr": "indexof(datum.label, 'Avg') > 0 ? ['5 per. Mov.', slice(datum.label, 12)] : datum.label"}},
"strokeWidth": {"field": "s", "type": "nominal", "scale": {"type": "ordinal", "domain": ["NG_1","TX_5","BK_A","BK_B","BK_C","BK_D","SW_A","5 per. Mov. Avg. (NG_1)","5 per. Mov. Avg. (TX_5)"], "range": [1,1,1.2,1,1.2,1.3,1.3,2.75,2.75]},
 "legend": {"title": null, "orient": "none", "legendX": 381, "legendY": -15, "labelExpr": "indexof(datum.label, 'Avg') > 0 ? ['5 per. Mov.', slice(datum.label, 12)] : datum.label"}}
}
},
{
"data": {"name": "scholma"},
"mark": {"type": "line", "strokeCap": "butt", "strokeJoin": "round"},
"encoding": {
"x": {"field": "d", "type": "temporal"},
"y": {"field": "v", "type": "quantitative"},
"stroke": {"field": "s", "type": "nominal", "scale": {"domain": ["NG_1","TX_5","BK_A","BK_B","BK_C","BK_D","SW_A","5 per. Mov. Avg. (NG_1)","5 per. Mov. Avg. (TX_5)"], "range": ["#003300","#FF0000","#008000","#808080","#008000","#008080","#0000FF","#000000","#000000"]},
 "legend": {"title": null, "orient": "none", "legendX": 381, "legendY": -15, "labelExpr": "indexof(datum.label, 'Avg') > 0 ? ['5 per. Mov.', slice(datum.label, 12)] : datum.label"}},
"strokeWidth": {"field": "s", "type": "nominal", "scale": {"type": "ordinal", "domain": ["NG_1","TX_5","BK_A","BK_B","BK_C","BK_D","SW_A","5 per. Mov. Avg. (NG_1)","5 per. Mov. Avg. (TX_5)"], "range": [1,1,1.2,1,1.2,1.3,1.3,2.75,2.75]},
 "legend": {"title": null, "orient": "none", "legendX": 381, "legendY": -15, "labelExpr": "indexof(datum.label, 'Avg') > 0 ? ['5 per. Mov.', slice(datum.label, 12)] : datum.label"}},
"strokeDash": {"field": "s", "type": "nominal", "scale": {"domain": ["NG_1","TX_5","BK_A","BK_B","BK_C","BK_D","SW_A","5 per. Mov. Avg. (NG_1)","5 per. Mov. Avg. (TX_5)"], "range": [[1,0],[1,0],[1,0],[1,0],[1,0],[1,0],[1,0],[12,5,4,5],[1,0]]},
 "legend": {"title": null, "orient": "none", "legendX": 381, "legendY": -15, "labelExpr": "indexof(datum.label, 'Avg') > 0 ? ['5 per. Mov.', slice(datum.label, 12)] : datum.label"}}
}
}
]
}
],
"resolve": {
"scale": {"y": "independent", "shape": "independent", "fill": "independent", "stroke": "independent", "size": "independent", "strokeWidth": "independent", "strokeDash": "independent"},
"legend": {"shape": "independent", "fill": "independent", "stroke": "independent", "size": "independent", "strokeWidth": "independent", "strokeDash": "independent"}
},
"config": {
"font": "Liberation Sans",
"view": {"stroke": "#808080", "strokeWidth": 1},
"axis": {"domainColor": "black", "tickColor": "black", "labelColor": "black", "titleColor": "black", "labelFont": "Liberation Sans", "titleFont": "Liberation Sans", "labelFontSize": 14, "titleFontSize": 16, "titleFontWeight": "bold", "gridOpacity": 1, "gridWidth": 1},
"legend": {"padding": 5, "rowPadding": 12.5, "clipHeight": 40, "gridAlign": "all", "labelOffset": 5, "strokeColor": "black", "labelFontSize": 11, "labelFont": "Liberation Sans", "labelColor": "black", "labelLimit": 200},
"title": {"font": "Liberation Sans", "fontSize": 18, "fontWeight": "bold", "color": "black", "offset": 32, "anchor": "middle"}
}
}
